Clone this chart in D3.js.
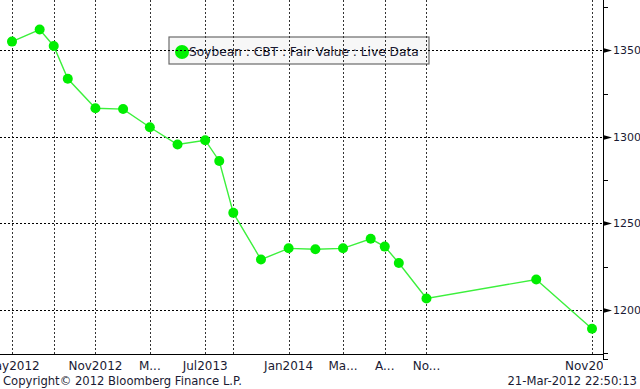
<!DOCTYPE html>
<html><head><meta charset="utf-8">
<script src="https://cdn.jsdelivr.net/npm/d3@7"></script>
<style>body{margin:0;background:#fff}svg{display:block}</style>
</head><body>
<svg id="c" width="640" height="389"></svg>
<script>
const months = ["2012-05","2012-07","2012-08","2012-09","2012-11","2013-01","2013-03","2013-05","2013-07","2013-08","2013-09","2013-11","2014-01","2014-03","2014-05","2014-07","2014-08","2014-09","2014-11","2015-07","2015-11"];
const values = [1355,1362,1352.5,1333.5,1316.5,1316,1305.5,1295.5,1298,1286,1256,1229,1235.5,1235,1235.5,1241,1236.5,1227,1206.5,1217.5,1189];
const gridMonths = ["2012-05","2012-08","2012-11","2013-03","2013-07","2013-09","2014-01","2014-05","2014-08","2014-11","2015-11"];
const gridLabels = ["May2012","","Nov2012","M...","Jul2013","","Jan2014","Ma...","A...","No...","Nov2015"];
const yMajor = [1200,1250,1300,1350];
const yMinor = [1175,1225,1275,1325,1375];
const legendText = "Soybean : CBT : Fair Value : Live Data";
const copyright = "Copyright\u00A9 2012 Bloomberg Finance L.P.";
const stamp = "21-Mar-2012 22:50:13";

const parse = d3.timeParse("%Y-%m");
const svg = d3.select("#c");
const font = "'DejaVu Sans', sans-serif";
const R = 603, B = 354;
const x = d3.scaleTime().domain([parse("2012-05"), parse("2015-11")]).range([12, 592]);
const y = d3.scaleLinear().domain([1175, 1375]).range([353, 7]);

svg.append("defs").append("clipPath").attr("id","clip").append("rect")
  .attr("x",0).attr("y",0).attr("width",R).attr("height",389);

// legend box
svg.append("rect").attr("x",169).attr("y",37).attr("width",260).attr("height",27)
  .attr("fill","#f7f7f7").attr("stroke","#6a6a6a").attr("stroke-width",1.2);
svg.append("circle").attr("cx",182).attr("cy",52).attr("r",7).attr("fill","#00f000");
svg.append("text").attr("x",189).attr("y",56).attr("font-family",font).attr("font-size",12.2)
  .attr("fill","#1a1a33").text(legendText);

// grid
const g = svg.append("g").attr("clip-path","url(#clip)");
g.selectAll(".vg").data(gridMonths).join("line")
  .attr("x1",d=>Math.round(x(parse(d)))+0.5).attr("x2",d=>Math.round(x(parse(d)))+0.5)
  .attr("y1",0).attr("y2",B).attr("stroke","#333").attr("stroke-width",1).attr("stroke-dasharray","2,2");
g.selectAll(".hg").data(yMajor).join("line")
  .attr("x1",0).attr("x2",R).attr("y1",d=>Math.round(y(d))+0.5).attr("y2",d=>Math.round(y(d))+0.5)
  .attr("stroke","#000").attr("stroke-width",1).attr("stroke-dasharray","2,2");

// series
const pts = months.map((m,i)=>({d:parse(m), v:values[i]}));
svg.append("path").datum(pts)
  .attr("d", d3.line().x(d=>x(d.d)).y(d=>y(d.v)))
  .attr("fill","none").attr("stroke","#3cf03c").attr("stroke-width",1.4);
svg.selectAll(".pt").data(pts).join("circle")
  .attr("cx",d=>x(d.d)).attr("cy",d=>y(d.v)).attr("r",5).attr("fill","#00ee00");

// axes
svg.append("line").attr("x1",R+0.5).attr("x2",R+0.5).attr("y1",0).attr("y2",B+6).attr("stroke","#000");
svg.append("line").attr("x1",0).attr("x2",R+1).attr("y1",B+0.5).attr("y2",B+0.5).attr("stroke","#000");
svg.append("line").attr("x1",R).attr("x2",R+5).attr("y1",B+5.5).attr("y2",B+5.5).attr("stroke","#000");
svg.selectAll(".mn").data(yMinor).join("line")
  .attr("x1",R).attr("x2",R+5).attr("y1",d=>Math.round(y(d))+0.5).attr("y2",d=>Math.round(y(d))+0.5).attr("stroke","#000");
svg.selectAll(".mj").data(yMajor).join("path")
  .attr("d",d=>{const yy=Math.round(y(d))+0.5;return `M${R},${yy-2.5}L${R+9},${yy}L${R},${yy+2.5}Z`;})
  .attr("fill","#000");
svg.selectAll(".yl").data(yMajor).join("text")
  .attr("x",613).attr("y",d=>y(d)+4).attr("font-family",font).attr("font-size",11)
  .attr("fill","#1a1a33").text(d=>d);

// x labels
svg.append("g").attr("clip-path","url(#clip)").selectAll("text").data(gridMonths.map((m,i)=>({m,l:gridLabels[i]})).filter(d=>d.l))
  .join("text").attr("x",d=>x(parse(d.m))).attr("y",370).attr("text-anchor","middle")
  .attr("font-family",font).attr("font-size",12).attr("fill","#1a1a33").text(d=>d.l);

svg.append("text").attr("x",3).attr("y",385).attr("font-family",font).attr("font-size",11.6).attr("fill","#1a1a33").text(copyright);
svg.append("text").attr("x",637).attr("y",385).attr("text-anchor","end").attr("font-family",font).attr("font-size",11.6).attr("fill","#1a1a33").text(stamp);
</script>
</body></html>
